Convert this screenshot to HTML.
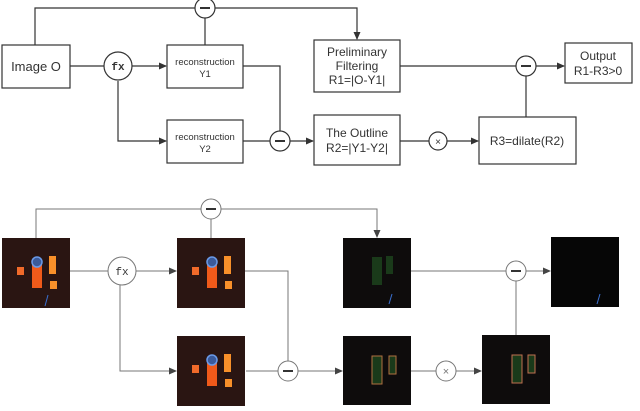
<!DOCTYPE html>
<html><head><meta charset="utf-8"><style>
body{margin:0;background:#fff;width:640px;height:406px;overflow:hidden;font-family:"Liberation Sans",sans-serif}
</style></head><body>
<svg width="640" height="406" xmlns="http://www.w3.org/2000/svg">
<defs><marker id="a" markerWidth="8" markerHeight="8" refX="7" refY="4" orient="auto" markerUnits="userSpaceOnUse"><path d="M0,0.5 L8,4 L0,7.5z" fill="#333"/></marker>
<marker id="b" markerWidth="8" markerHeight="8" refX="7" refY="4" orient="auto" markerUnits="userSpaceOnUse"><path d="M0,0.5 L8,4 L0,7.5z" fill="#444"/></marker></defs>
<g stroke="#333" stroke-width="1.2" fill="none">
<!-- top diagram lines -->
<path d="M35,45 V8 H195 M215,8 H357 V39" marker-end="url(#a)"/>
<path d="M205,18 V45"/>
<path d="M70,66 H104 M132,66 H166" marker-end="url(#a)"/>
<path d="M118,81 V141 H166" marker-end="url(#a)"/>
<path d="M243,66 H280 V131"/>
<path d="M243,141 H270 M290,141 H313" marker-end="url(#a)"/>
<path d="M400,66 H516 M536,66 H564" marker-end="url(#a)"/>
<path d="M526,76 V117"/>
<path d="M400,141 H429 M447,141 H478" marker-end="url(#a)"/>
<rect x="2" y="45" width="68" height="43" fill="#fff"/>
<rect x="167" y="45" width="76" height="43" fill="#fff"/>
<rect x="167" y="120" width="76" height="43" fill="#fff"/>
<rect x="314" y="40" width="86" height="52" fill="#fff"/>
<rect x="314" y="115" width="86" height="50" fill="#fff"/>
<rect x="565" y="43" width="67" height="40" fill="#fff"/>
<rect x="479" y="117" width="97" height="47" fill="#fff"/>
<circle cx="205" cy="8" r="10" fill="#fff"/>
<circle cx="118" cy="66" r="14" fill="#fff"/>
<circle cx="280" cy="141" r="10" fill="#fff"/>
<circle cx="526" cy="66" r="10" fill="#fff"/>
<circle cx="438" cy="141" r="9" fill="#fff"/>
</g>
<g stroke="#333" stroke-width="2"><path d="M200,8h10M275,141h10M521,66h10"/></g>
<g fill="#333" font-size="12" text-anchor="middle">
<text x="36" y="71" font-size="13">Image O</text>
<text x="118" y="70" font-family="Liberation Mono" font-weight="bold" font-size="11">fx</text>
<text x="205" y="65" font-size="9.5">reconstruction</text><text x="205" y="77" font-size="9.5">Y1</text>
<text x="205" y="140" font-size="9.5">reconstruction</text><text x="205" y="152" font-size="9.5">Y2</text>
<text x="357" y="56">Preliminary</text><text x="357" y="70">Filtering</text><text x="357" y="84">R1=|O-Y1|</text>
<text x="357" y="137">The Outline</text><text x="357" y="152">R2=|Y1-Y2|</text>
<text x="438" y="145" font-size="10">×</text>
<text x="527" y="145">R3=dilate(R2)</text>
<text x="598" y="60">Output</text><text x="598" y="75">R1-R3&gt;0</text>
</g>
<!-- bottom -->
<g stroke="#777" stroke-width="1" fill="none">
<path d="M36,238 V209 H201 M221,209 H377 V237" marker-end="url(#b)"/>
<path d="M211,219 V238"/>
<path d="M70,271 H108 M136,271 H176" marker-end="url(#b)"/>
<path d="M120,285 V371 H176" marker-end="url(#b)"/>
<path d="M245,271 H288 V361"/>
<path d="M246,371 H278 M298,371 H342" marker-end="url(#b)"/>
<path d="M411,271 H506 M526,271 H550" marker-end="url(#b)"/>
<path d="M516,281 V335"/>
<path d="M411,371 H436 M456,371 H481" marker-end="url(#b)"/>
<circle cx="211" cy="209" r="10" fill="#fff"/>
<circle cx="122" cy="271" r="14" fill="#fff"/>
<circle cx="288" cy="371" r="10" fill="#fff"/>
<circle cx="516" cy="271" r="10" fill="#fff"/>
<circle cx="446" cy="371" r="10" fill="#fff"/>
</g>
<g stroke="#333" stroke-width="2"><path d="M206,209h10M283,371h10M511,271h10"/></g>
<text x="122" y="275" font-family="Liberation Mono" font-size="11" text-anchor="middle" fill="#333">fx</text>
<text x="446" y="375" font-size="11" text-anchor="middle" fill="#777">×</text>
<!-- images: orange -->
<g id="o">
<rect x="2" y="238" width="68" height="70" fill="#2a1512"/>
<rect x="17" y="267" width="7" height="8" fill="#f06a2a"/>
<rect x="32" y="262" width="10" height="26" fill="#f05a1a"/>
<circle cx="37" cy="262" r="5" fill="#3a5a9a" stroke="#6a9ae8" stroke-width="1.5"/>
<rect x="49" y="256" width="7" height="18" fill="#f8902a"/>
<rect x="50" y="281" width="7" height="8" fill="#f8902a"/>
</g>
<use href="#o" x="175" y="0"/>
<use href="#o" x="175" y="98"/>
<line x1="48" y1="295" x2="45" y2="306" stroke="#3a70d0"/>
<rect x="343" y="238" width="68" height="70" fill="#0e0c0c"/>
<rect x="372" y="257" width="10" height="28" fill="#1a3a1a"/>
<rect x="386" y="256" width="7" height="18" fill="#1a3a1a"/>
<line x1="392" y1="294" x2="389" y2="304" stroke="#3a70d0"/>
<rect x="343" y="336" width="68" height="69" fill="#0e0c0c"/>
<rect x="372" y="356" width="10" height="28" fill="#1a3a1a" stroke="#b07040"/>
<rect x="389" y="356" width="7" height="18" fill="#1a3a1a" stroke="#b07040"/>
<rect x="482" y="335" width="68" height="69" fill="#0e0c0c"/>
<rect x="512" y="355" width="10" height="28" fill="#1a3a1a" stroke="#c07050"/>
<rect x="528" y="355" width="7" height="18" fill="#1a3a1a" stroke="#c07050"/>
<rect x="551" y="237" width="68" height="70" fill="#060606"/>
<line x1="600" y1="294" x2="597" y2="304" stroke="#3a70d0"/>
</svg>
</body></html>
